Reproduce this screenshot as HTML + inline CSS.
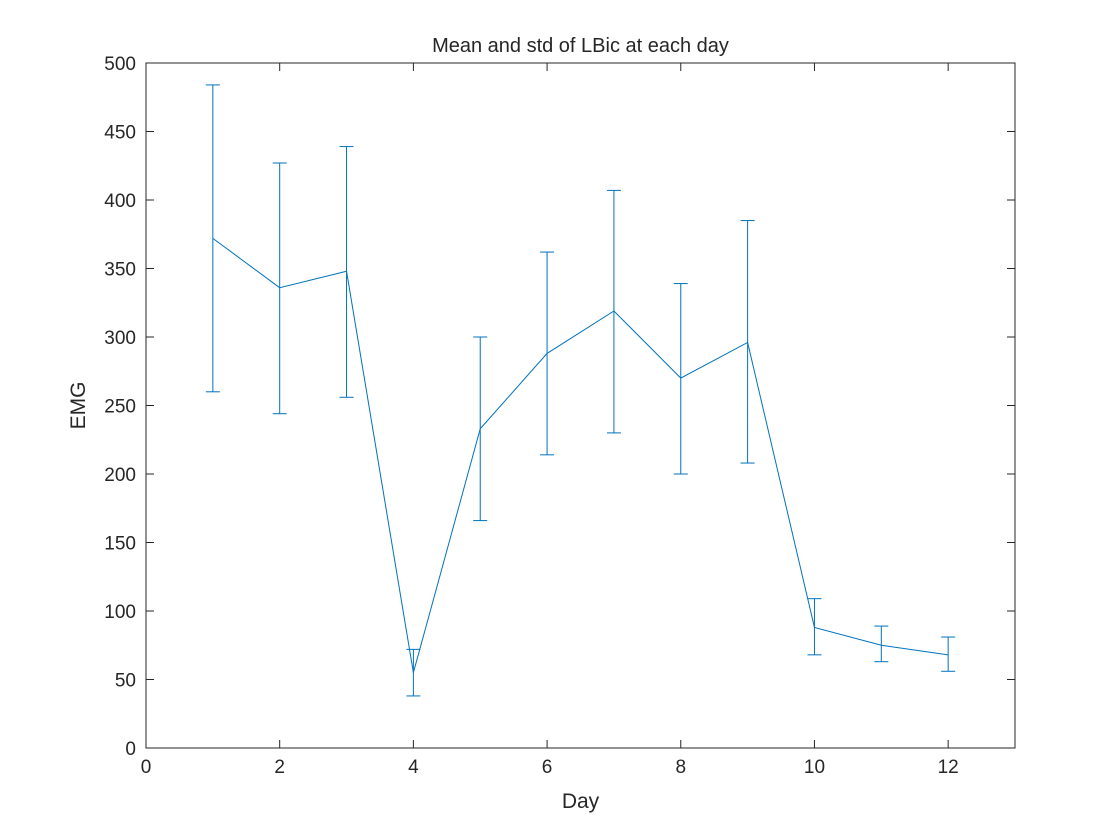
<!DOCTYPE html>
<html>
<head>
<meta charset="utf-8">
<style>
html,body{margin:0;padding:0;background:#fff;}
svg{display:block;}
text{font-family:"Liberation Sans",sans-serif;fill:#262626;}
</style>
</head>
<body>
<svg id="chart" width="1120" height="840">
<rect x="0" y="0" width="1120" height="840" fill="#fff"/>
<g id="plot"></g>
</svg>
<script>
const days = [1,2,3,4,5,6,7,8,9,10,11,12];
const means = [372,336,348,55,233,288,319,270,296,88,75,68];
const upper = [484,427,439,72,300,362,407,339,385,109,89,81];
const lower = [260,244,256,38,166,214,230,200,208,68,63,56];
const xTicks = [0,2,4,6,8,10,12];
const yTicks = [0,50,100,150,200,250,300,350,400,450,500];

const L=146,R=1015,T=63,B=748;
const xMin=0,xMax=13,yMin=0,yMax=500;
const xs=v=>L+(v-xMin)/(xMax-xMin)*(R-L);
const ys=v=>B-(v-yMin)/(yMax-yMin)*(B-T);
const NS="http://www.w3.org/2000/svg";
const plot=document.getElementById('plot');
function mk(tag,attrs,parent){const e=document.createElementNS(NS,tag);for(const k in attrs)e.setAttribute(k,attrs[k]);(parent||plot).appendChild(e);return e;}

const frame=mk('rect',{x:L,y:T,width:R-L,height:B-T,fill:'none',stroke:'#262626','stroke-width':1});



xTicks.forEach(v=>{
  const x=xs(v);
  const t1=mk('line',{x1:x,y1:B,x2:x,y2:B-8,stroke:'#262626'});
  
  
  const t2=mk('line',{x1:x,y1:T,x2:x,y2:T+8,stroke:'#262626'});
  
  
  const lb=mk('text',{x:x,y:B+25,'text-anchor':'middle','font-size':19});
  lb.textContent=v;
  
  
});
yTicks.forEach(v=>{
  const y=ys(v);
  const t1=mk('line',{x1:L,y1:y,x2:L+8,y2:y,stroke:'#262626'});
  
  
  const t2=mk('line',{x1:R,y1:y,x2:R-8,y2:y,stroke:'#262626'});
  
  
  const lb=mk('text',{x:L-10,y:y+7,'text-anchor':'end','font-size':19});
  lb.textContent=v;
  
  
});

const pts=days.map((d,i)=>xs(d)+','+ys(means[i])).join(' ');
const line=mk('polyline',{points:pts,fill:'none',stroke:'#0072bd','stroke-width':1});



days.forEach((d,i)=>{
  const x=xs(d),yu=ys(upper[i]),yl=ys(lower[i]);
  const g=mk('g',{stroke:'#0072bd','stroke-width':1});
  
  
  mk('line',{x1:x,y1:yu,x2:x,y2:yl},g);
  mk('line',{x1:x-7,y1:yu,x2:x+7,y2:yu},g);
  mk('line',{x1:x-7,y1:yl,x2:x+7,y2:yl},g);
});

const title=mk('text',{x:(L+R)/2,y:52,'text-anchor':'middle','font-size':20});
title.textContent='Mean and std of LBic at each day';


const xl=mk('text',{x:(L+R)/2,y:808,'text-anchor':'middle','font-size':21});
xl.textContent='Day';


const yl=mk('text',{x:0,y:0,'text-anchor':'middle','font-size':21,transform:'translate(85,'+((T+B)/2)+') rotate(-90)'});
yl.textContent='EMG';


</script>
</body>
</html>
